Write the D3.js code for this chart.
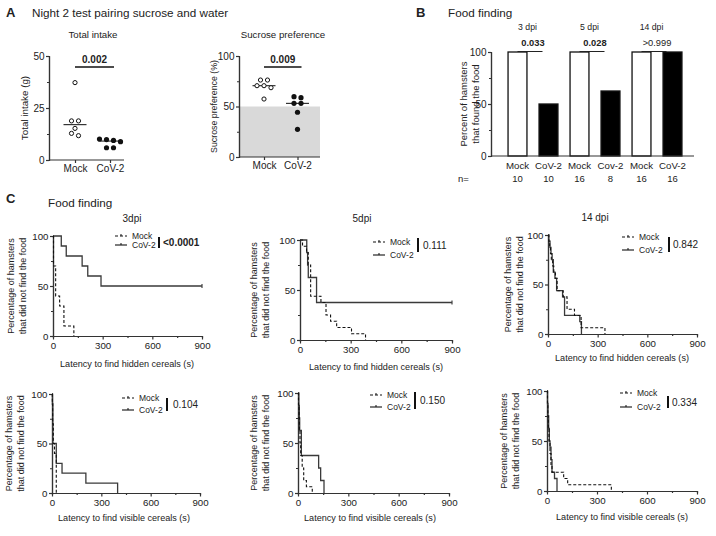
<!DOCTYPE html>
<html>
<head>
<meta charset="utf-8">
<script src="https://cdn.jsdelivr.net/npm/d3@7"></script>
<style>
body { margin: 0; background: #fff; }
text { font-family: "Liberation Sans", Arial, sans-serif; fill: #222; }
</style>
</head>
<body>
<script>
// ---- data ----
const groups = ['Mock', 'CoV-2'];
const intakeMock = [37.2, 18.8, 18.8, 15.2, 12.8, 11.7]; // g
const intakeCov = [10.1, 9.8, 9.4, 8.8, 5.9, 5.9];
const prefMock = [76.2, 76.2, 70.6, 70.6, 68.6, 57.4]; // %
const prefCov = [59.7, 58.7, 53.1, 53.1, 44.3, 27.4];

const foodLabels = ['Mock', 'CoV-2', 'Mock', 'Cov-2', 'Mock', 'CoV-2'];
const foodPct = [100, 50, 100, 62.5, 100, 100];
const foodN = [10, 10, 16, 8, 16, 16];
const foodDpi = ['3 dpi', '5 dpi', '14 dpi'];
const foodP = ['0.033', '0.028', '>0.999'];

// Kaplan-Meier steps: [time (s), % still searching after the step]
const hid3Mock = [[3, 70], [16, 40], [40, 30], [66, 10], [126, 0]];
const hid3Cov = [[50, 90], [80, 80], [176, 70], [210, 60], [290, 50]];
const hid5Mock = [[15, 93.75], [39, 87.5], [49, 75], [63, 43.75], [124, 37.5], [154, 25], [181, 18.75], [217, 12.5], [305, 6.25], [388, 0]];
const hid5Cov = [[40, 87.5], [45, 75], [49, 62.5], [98, 37.5]];
const hid14Mock = [[5, 93.75], [10, 87.5], [15, 81.25], [20, 75], [28, 68.75], [35, 62.5], [45, 56.25], [55, 43.75], [92, 37.5], [115, 25], [160, 18.75], [200, 6.25], [344, 0]];
const hid14Cov = [[5, 93.75], [12, 87.5], [18, 81.25], [25, 75], [32, 62.5], [42, 56.25], [52, 43.75], [88, 37.5], [100, 18.75], [192, 12.5], [202, 0]];
const vis3Mock = [[2, 90], [4, 70], [8, 50], [15, 40], [26, 0]];
const vis3Cov = [[3, 90], [5, 50], [26, 30], [61, 20], [206, 10], [399, 0]];
const vis5Mock = [[3, 87.5], [6, 75], [8, 62.5], [12, 50], [16, 37.5], [25, 25], [34, 12.5], [50, 6.25], [85, 0]];
const vis5Cov = [[5, 87.5], [8, 75], [10, 62.5], [20, 37.5], [123, 25], [135, 12.5], [155, 0]];
const vis14Mock = [[3, 87.5], [5, 75], [8, 62.5], [12, 50], [18, 37.5], [24, 25], [30, 18.75], [100, 12.5], [124, 6.25], [386, 0]];
const vis14Cov = [[3, 87.5], [6, 75], [10, 62.5], [14, 50], [18, 43.75], [24, 31.25], [30, 18.75], [45, 12.5], [60, 0]];
const kmP = ['<0.0001', '0.111', '0.842', '0.104', '0.150', '0.334'];
const kmTitles = ['3dpi', '5dpi', '14 dpi'];

const axisColor = '#333';

const svg = d3.select('body').append('svg')
	.attr('width', 716)
	.attr('height', 536);

function label(x, y, s, size, opts) { //Small helper for plain text.
	opts = opts || {};
	const t = svg.append('text')
		.attr('x', x)
		.attr('y', y)
		.attr('font-size', size)
		.attr('text-anchor', opts.anchor || 'start')
		.attr('font-weight', opts.bold ? 'bold' : 'normal')
		.text(s);
	if (opts.rotate) t.attr('transform', 'rotate(-90,' + x + ',' + y + ')');
	return t;
}

function styleAxis(size) {
	return g => {
		g.selectAll('path, line').attr('stroke', axisColor).attr('stroke-width', 1.2);
		g.selectAll('text').attr('font-size', size).attr('fill', '#222')
			.attr('font-family', '"Liberation Sans", Arial, sans-serif');
	};
}

function yAxisWithMinor(x, scale, major, minor, size) {
	svg.append('g')
		.attr('transform', 'translate(' + x + ',0)')
		.call(d3.axisLeft(scale).tickValues(minor).tickSize(2).tickFormat(''))
		.call(styleAxis(size));
	svg.append('g')
		.attr('transform', 'translate(' + x + ',0)')
		.call(d3.axisLeft(scale).tickValues(major).tickSize(3).tickSizeOuter(0).tickPadding(1.5))
		.call(styleAxis(size));
}

// ---- panel titles ----
label(6, 17, 'A', 13, { bold: true });
label(32, 17, 'Night 2 test pairing sucrose and water', 11.7);
label(416, 17, 'B', 13, { bold: true });
label(448, 17, 'Food finding', 11.7);
label(6, 203, 'C', 13, { bold: true });
label(48, 207, 'Food finding', 11.7);

// ---- panel A scatter plots ----
function spread(values, y, r) { //Beeswarm-ish rows, like GraphPad does it.
	const sorted = values.slice().sort((a, b) => b - a);
	const rows = [];
	sorted.forEach(v => {
		const row = rows[rows.length - 1];
		if (row && Math.abs(y(row[0]) - y(v)) < 4) row.push(v);
		else rows.push([v]);
	});
	const out = [];
	rows.forEach(row => {
		row.forEach((v, i) => out.push({ v: v, dx: (i - (row.length - 1) / 2) * (2 * r + 1.8) }));
	});
	return out;
}

function scatterPanel(cfg) {
	const y = d3.scaleLinear().domain(cfg.domain).range([cfg.yBot, cfg.yTop]);
	const x = d3.scalePoint().domain(groups).range(cfg.xPos);

	if (cfg.shade) {
		svg.append('rect')
			.attr('x', cfg.axisX)
			.attr('y', y(cfg.shade))
			.attr('width', cfg.axisEnd - cfg.axisX)
			.attr('height', y(0) - y(cfg.shade))
			.attr('fill', '#d9d9d9');
	}

	svg.append('g')
		.attr('transform', 'translate(0,' + cfg.yBot + ')')
		.call(d3.axisBottom(x).tickSize(3).tickSizeOuter(0).tickPadding(1.5))
		.call(styleAxis(10))
		.call(g => g.select('.domain').attr('d', 'M' + cfg.axisX + ',0H' + cfg.axisEnd));

	yAxisWithMinor(cfg.axisX, y, cfg.major, cfg.minor, 10);

	const r = 2.6;
	[cfg.mock, cfg.cov].forEach((vals, gi) => {
		const cx = x(groups[gi]);
		const med = d3.median(vals);
		svg.append('line')
			.attr('x1', cx - 11.5).attr('x2', cx + 11.5)
			.attr('y1', y(med)).attr('y2', y(med))
			.attr('stroke', '#222').attr('stroke-width', 1.1);
		svg.selectAll(null)
			.data(spread(vals, y, r))
			.enter()
			.append('circle')
			.attr('cx', d => cx + d.dx)
			.attr('cy', d => y(d.v))
			.attr('r', d => gi === 0 ? r - 0.5 : r)
			.attr('fill', gi === 0 ? '#fff' : '#111')
			.attr('stroke', '#111')
			.attr('stroke-width', gi === 0 ? 1 : 0);
	});

	// significance bar
	svg.append('line')
		.attr('x1', x(groups[0])).attr('x2', x(groups[1]) + 4)
		.attr('y1', cfg.yTop + 11).attr('y2', cfg.yTop + 11)
		.attr('stroke', '#111').attr('stroke-width', 1.5);
	label((x(groups[0]) + x(groups[1]) + 4) / 2, cfg.yTop + 7, cfg.p, 10, { anchor: 'middle', bold: true });

	label(cfg.titleX, 38, cfg.title, 9.7, { anchor: 'middle' });
	label(cfg.ylabX, (cfg.yTop + cfg.yBot) / 2, cfg.ylab, cfg.ylabSize, { anchor: 'middle', rotate: true });
}

scatterPanel({
	mock: intakeMock, cov: intakeCov, domain: [0, 50], yTop: 56, yBot: 160,
	xPos: [75, 110], axisX: 49, axisEnd: 124, major: [0, 25, 50], minor: [12.5, 37.5],
	p: '0.002', title: 'Total intake', titleX: 93, ylab: 'Total intake (g)', ylabX: 27.5, ylabSize: 9.8
});
scatterPanel({
	mock: prefMock, cov: prefCov, domain: [0, 100], yTop: 56, yBot: 157,
	xPos: [264, 297.5], axisX: 239, axisEnd: 320, major: [0, 50, 100], minor: [25, 75],
	shade: 50, p: '0.009', title: 'Sucrose preference', titleX: 283, ylab: 'Sucrose preference (%)', ylabX: 216.5, ylabSize: 8.8
});

// ---- panel B bars ----
(function () {
	const idx = d3.range(foodPct.length);
	const x = d3.scaleBand().domain(idx).range([502, 688]).paddingInner(0.39).paddingOuter(0.195);
	const y = d3.scaleLinear().domain([0, 100]).range([156, 52]);

	svg.selectAll(null)
		.data(idx)
		.enter()
		.append('rect')
		.attr('x', i => x(i))
		.attr('y', i => y(foodPct[i]))
		.attr('width', x.bandwidth())
		.attr('height', i => y(0) - y(foodPct[i]))
		.attr('fill', i => i % 2 === 0 ? '#fff' : '#000')
		.attr('stroke', '#111')
		.attr('stroke-width', 1.3);

	svg.append('g')
		.attr('transform', 'translate(0,156)')
		.call(d3.axisBottom(x).tickSize(0).tickPadding(6).tickFormat(i => foodLabels[i]))
		.call(styleAxis(9.7))
		.call(g => g.select('.domain').attr('d', 'M491,0H694'));
	svg.selectAll(null)
		.data(idx)
		.enter()
		.append('text')
		.attr('x', i => x(i) + x.bandwidth() / 2)
		.attr('y', 182)
		.attr('text-anchor', 'middle')
		.attr('font-size', 9.5)
		.text(i => foodN[i]);
	label(458, 182, 'n=', 9.5);

	yAxisWithMinor(491, y, [0, 50, 100], [25, 75], 10);

	foodDpi.forEach((d, k) => {
		const a = x(2 * k) + x.bandwidth() / 2;
		const b = x(2 * k + 1) + x.bandwidth() / 2;
		label(a + 10, 30, d, 8.7, { anchor: 'middle' });
		svg.append('line')
			.attr('x1', a).attr('x2', b - 6)
			.attr('y1', y(100) - 0.5).attr('y2', y(100) - 0.5)
			.attr('stroke', '#222').attr('stroke-width', 1);
		label((a + b - 6) / 2 + 3, 45.5, foodP[k], 9.3, { anchor: 'middle', bold: k < 2 });
	});
	label(466.5, 104, 'Percent of hamsters', 9.5, { anchor: 'middle', rotate: true });
	label(478.5, 104, 'that found the food', 9.5, { anchor: 'middle', rotate: true });
})();

// ---- panel C Kaplan-Meier curves ----
const kmLayout = [
	{ x0: 53, x1: 202, top: 236, bot: 336, mock: hid3Mock, cov: hid3Cov, lab: 'hidden', title: 0, tx: 132, ty: 222, ylx: 13.5, xlx: 127, xly: 367, lg: [115, 236, 245, 159, 237, 248, 163] },
	{ x0: 300, x1: 452, top: 240, bot: 340, mock: hid5Mock, cov: hid5Cov, lab: 'hidden', title: 1, tx: 362, ty: 222, ylx: 256.5, xlx: 376, xly: 370, lg: [373, 242, 255, 418, 238, 252, 423] },
	{ x0: 548, x1: 697, top: 235, bot: 334, mock: hid14Mock, cov: hid14Cov, lab: 'hidden', title: 2, tx: 595, ty: 221, ylx: 510.5, xlx: 622, xly: 361, lg: [622, 237, 250, 669, 237, 252, 673] },
	{ x0: 52, x1: 200, top: 394, bot: 493, mock: vis3Mock, cov: vis3Cov, lab: 'visible', ylx: 11.5, xlx: 124, xly: 521, lg: [122, 398, 410, 167, 398, 411, 173] },
	{ x0: 298, x1: 449, top: 393, bot: 493, mock: vis5Mock, cov: vis5Cov, lab: 'visible', ylx: 256.5, xlx: 370, xly: 521, lg: [370, 395, 407, 415, 392, 409, 420] },
	{ x0: 547, x1: 697, top: 391, bot: 491, mock: vis14Mock, cov: vis14Cov, lab: 'visible', ylx: 506.5, xlx: 622, xly: 520, lg: [620, 393, 407, 668, 396, 408, 672] }
];

function stepPoints(steps, end) {
	const pts = [[0, 100]];
	let prev = 100;
	steps.forEach(([t, s]) => {
		pts.push([t, prev]);
		pts.push([t, s]);
		prev = s;
	});
	if (prev > 0) pts.push([end, prev]);
	return pts;
}

kmLayout.forEach((p, k) => {
	const x = d3.scaleLinear().domain([0, 900]).range([p.x0, p.x1]);
	const y = d3.scaleLinear().domain([0, 100]).range([p.bot, p.top]);

	svg.append('g')
		.attr('transform', 'translate(0,' + p.bot + ')')
		.call(d3.axisBottom(x).tickValues([150, 450, 750]).tickSize(2).tickFormat(''))
		.call(styleAxis(9.7));
	svg.append('g')
		.attr('transform', 'translate(0,' + p.bot + ')')
		.call(d3.axisBottom(x).tickValues([0, 300, 600, 900]).tickSize(3.5).tickSizeOuter(0).tickPadding(3))
		.call(styleAxis(9.7));
	yAxisWithMinor(p.x0, y, [0, 50, 100], [25, 75], 9.7);

	const line = d3.line().x(d => x(d[0])).y(d => y(d[1]));
	svg.append('path')
		.attr('d', line(stepPoints(p.cov, 900)))
		.attr('fill', 'none').attr('stroke', '#3a3a3a').attr('stroke-width', 1.3);
	svg.append('path')
		.attr('d', line(stepPoints(p.mock, 900)))
		.attr('fill', 'none').attr('stroke', '#111').attr('stroke-width', 1.1)
		.attr('stroke-dasharray', '3,2');
	const last = p.cov[p.cov.length - 1][1];
	if (last > 0) { //censored tick at the end of follow-up
		svg.append('line')
			.attr('x1', x(900)).attr('x2', x(900))
			.attr('y1', y(last) - 2).attr('y2', y(last) + 2)
			.attr('stroke', '#444').attr('stroke-width', 1.2);
	}

	if (p.title !== undefined) label(p.tx, p.ty, kmTitles[p.title], 10, { anchor: 'middle' });
	label(p.xlx, p.xly, 'Latency to find ' + p.lab + ' cereals (s)', 9.1, { anchor: 'middle' });
	const my = (p.top + p.bot) / 2;
	label(p.ylx, my, 'Percentage of hamsters', 9, { anchor: 'middle', rotate: true });
	label(p.ylx + 12.5, my, 'that did not find the food', 9, { anchor: 'middle', rotate: true });

	// legend
	const [lx, ly1, ly2, bx, by1, by2, px] = p.lg;
	[[ly1, true, 'Mock'], [ly2, false, 'CoV-2']].forEach(([ly, dashed, name]) => {
		svg.append('line')
			.attr('x1', lx).attr('x2', lx + 12).attr('y1', ly).attr('y2', ly)
			.attr('stroke', '#111').attr('stroke-width', 1.1)
			.attr('stroke-dasharray', dashed ? '3,2' : null);
		svg.append('line')
			.attr('x1', lx + 6).attr('x2', lx + 6).attr('y1', ly - 2).attr('y2', ly)
			.attr('stroke', '#111').attr('stroke-width', 1);
		label(lx + 17, ly + 3, name, 8.5);
	});
	svg.append('line')
		.attr('x1', bx).attr('x2', bx).attr('y1', by1).attr('y2', by2)
		.attr('stroke', '#111').attr('stroke-width', 2);
	label(px, (by1 + by2) / 2 + 3.5, kmP[k], 10, { bold: k === 0 });
});
</script>
</body>
</html>
